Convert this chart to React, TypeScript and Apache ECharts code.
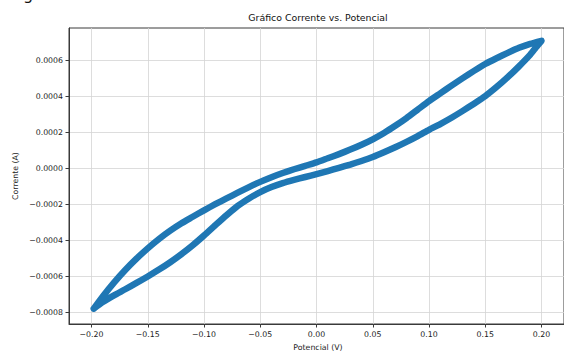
import React, { useEffect, useRef } from "react";
import * as echarts from "echarts";

// Forward sweep (upper branch)
const forwardV = [-0.198, -0.19, -0.18, -0.17, -0.16, -0.15, -0.14, -0.13, -0.12, -0.11, -0.1, -0.09, -0.08, -0.07, -0.06, -0.05, -0.04, -0.03, -0.02, -0.01, 0, 0.01, 0.02, 0.03, 0.04, 0.05, 0.06, 0.07, 0.08, 0.09, 0.1, 0.11, 0.12, 0.13, 0.14, 0.15, 0.16, 0.17, 0.18, 0.19, 0.2];
const forwardI = [-0.00078, -0.000712, -0.000635, -0.000565, -0.000502, -0.000445, -0.000393, -0.000347, -0.000306, -0.00027, -0.000234, -0.0002, -0.000168, -0.000136, -0.000105, -0.000076, -0.00005, -0.000027, -0.000006, 0.000013, 0.000032, 0.000055, 0.000078, 0.000103, 0.00013, 0.00016, 0.000195, 0.000235, 0.000278, 0.000325, 0.000372, 0.000415, 0.000458, 0.0005, 0.00054, 0.000578, 0.00061, 0.00064, 0.000668, 0.00069, 0.000707];
// Reverse sweep (lower branch)
const reverseV = [0.195, 0.19, 0.18, 0.17, 0.16, 0.15, 0.14, 0.13, 0.12, 0.11, 0.1, 0.09, 0.08, 0.07, 0.06, 0.05, 0.04, 0.03, 0.02, 0.01, 0, -0.01, -0.02, -0.03, -0.04, -0.05, -0.06, -0.07, -0.08, -0.09, -0.1, -0.11, -0.12, -0.13, -0.14, -0.15, -0.16, -0.17, -0.18, -0.19, -0.198];
const reverseI = [0.00067, 0.00063, 0.000565, 0.000505, 0.00045, 0.0004, 0.000358, 0.000318, 0.00028, 0.000245, 0.000213, 0.000178, 0.000146, 0.000116, 0.000088, 0.000062, 0.00004, 0.00002, 0.000002, -0.000016, -0.000033, -0.000049, -0.000065, -0.000083, -0.000105, -0.000133, -0.000168, -0.000209, -0.000261, -0.000317, -0.000374, -0.000428, -0.000477, -0.000522, -0.000563, -0.000601, -0.000637, -0.000672, -0.000706, -0.000743, -0.00078];

const xTicks = [-0.2, -0.15, -0.1, -0.05, 0, 0.05, 0.1, 0.15, 0.2];
const yTicks = [-0.0008, -0.0006, -0.0004, -0.0002, 0, 0.0002, 0.0004, 0.0006];
const xLimits = [-0.22, 0.22];
const yLimits = [-0.000865, 0.000778];

const titleText = "Gráfico Corrente vs. Potencial";
const xName = "Potencial (V)";
const yName = "Corrente (A)";

const fmt = (v: number, d: number) => {
  const s = Math.abs(v) < 1e-12 ? (0).toFixed(d) : v.toFixed(d);
  return s.replace("-", "\u2212");
};

export default function App() {
  const ref = useRef<HTMLDivElement>(null);
  useEffect(() => {
    if (!ref.current) return;
    const chart = echarts.init(ref.current, null, { renderer: "svg" });
    const data: number[][] = [];
    forwardV.forEach((v, i) => data.push([v, forwardI[i]]));
    reverseV.forEach((v, i) => data.push([v, reverseI[i]]));
    const font = "DejaVu Sans";
    chart.setOption({
      animation: false,
      backgroundColor: "#ffffff",
      grid: {
        left: 69,
        right: -3,
        top: 28,
        bottom: 27,
        show: true,
        borderColor: "#3a3a3a",
        borderWidth: 1,
        containLabel: false,
      },
      xAxis: {
        type: "value",
        min: xLimits[0],
        max: xLimits[1],
        axisLine: { show: true, onZero: false, lineStyle: { color: "#3a3a3a", width: 1 } },
        axisTick: { show: true, length: 3.5, customValues: xTicks, lineStyle: { color: "#3a3a3a" } },
        axisLabel: {
          customValues: xTicks,
          formatter: (v: number) => fmt(v, 2),
          fontFamily: font,
          fontSize: 7.8,
          color: "#222",
          margin: 6,
        },
        splitLine: { show: true, lineStyle: { color: "#d4d4d4", width: 0.8 } },
      },
      yAxis: {
        type: "value",
        min: yLimits[0],
        max: yLimits[1],
        axisLine: { show: true, onZero: false, lineStyle: { color: "#3a3a3a", width: 1 } },
        axisTick: { show: true, length: 3.5, customValues: yTicks, lineStyle: { color: "#3a3a3a" } },
        axisLabel: {
          customValues: yTicks,
          formatter: (v: number) => fmt(v, 4),
          fontFamily: font,
          fontSize: 7.8,
          color: "#222",
          margin: 6,
        },
        splitLine: { show: true, lineStyle: { color: "#d4d4d4", width: 0.8 } },
      },
      graphic: [
        {
          type: "text",
          x: 318,
          y: 17.5,
          style: { text: titleText, fontFamily: font, fontSize: 9.4, fill: "#111", textAlign: "center", textVerticalAlign: "middle" },
        },
        {
          type: "text",
          x: 318,
          y: 347,
          style: { text: xName, fontFamily: font, fontSize: 7.8, fill: "#222", textAlign: "center", textVerticalAlign: "middle" },
        },
        {
          type: "text",
          x: 15.7,
          y: 176,
          rotation: Math.PI / 2,
          style: { text: yName, fontFamily: font, fontSize: 7.8, fill: "#222", textAlign: "center", textVerticalAlign: "middle" },
        },
        {
          type: "text",
          x: 28,
          y: -14,
          style: { text: "g", fontFamily: font, fontSize: 16, fill: "#111", textAlign: "center", textVerticalAlign: "top" },
        },
      ],
      series: [
        {
          type: "line",
          data,
          showSymbol: false,
          symbol: "none",
          smooth: 0.2,
          lineStyle: { color: "#1f77b4", width: 6.5, cap: "round", join: "round" },
          itemStyle: { color: "#1f77b4" },
        },
      ],
    });
    return () => chart.dispose();
  }, []);
  return <div ref={ref} style={{ position: "absolute", left: 0, top: 0, width: 564, height: 351 }} />;
}
